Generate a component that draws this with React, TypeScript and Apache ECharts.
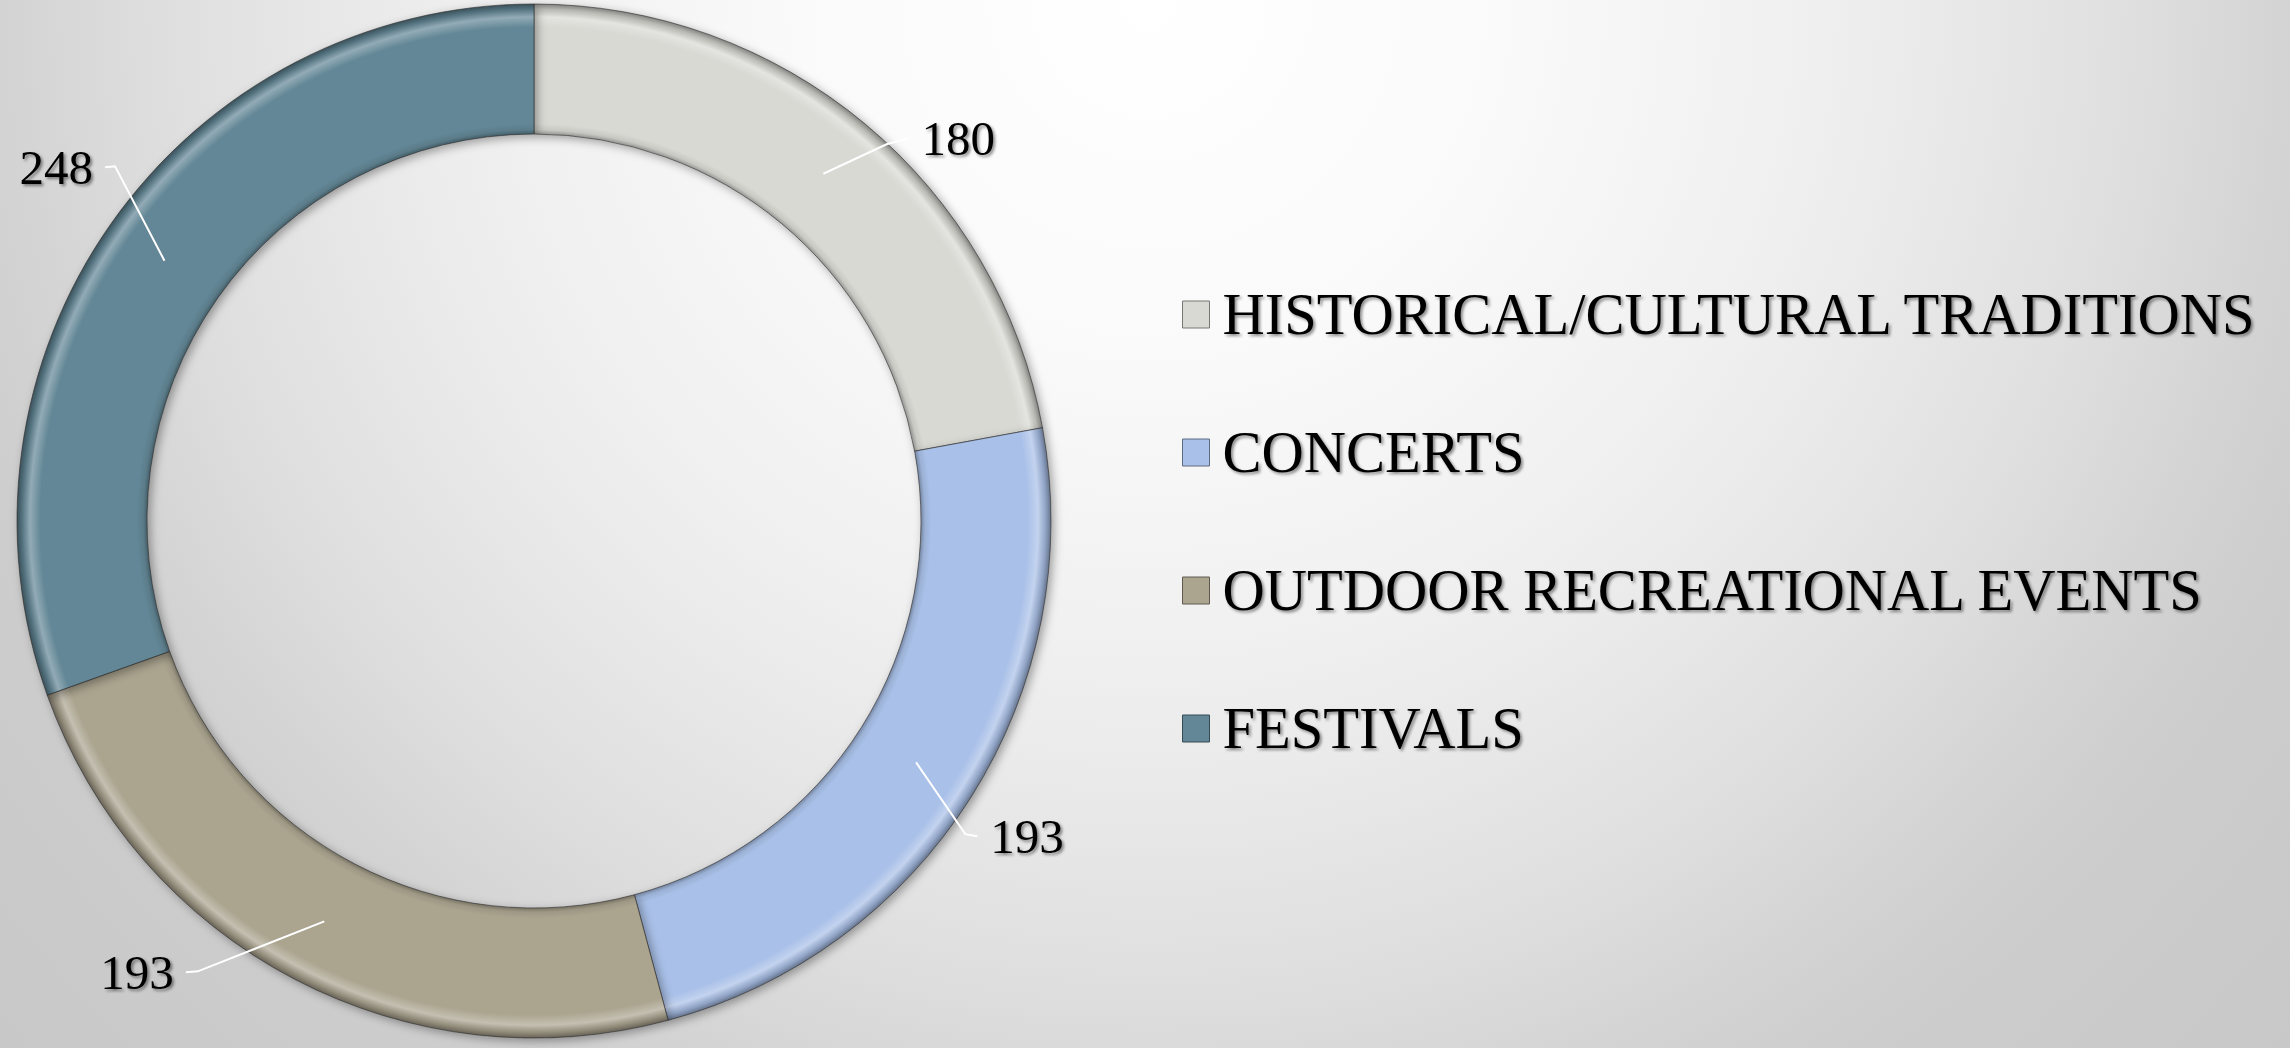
import React, { useEffect, useRef } from "react";
import * as echarts from "echarts";

// ---- data ----
const categories = [
  "HISTORICAL/CULTURAL TRADITIONS",
  "CONCERTS",
  "OUTDOOR RECREATIONAL EVENTS",
  "FESTIVALS",
];
const values = [180, 193, 193, 248];
const colors = ["#d8d9d3", "#a9c0e8", "#aba48f", "#638796"];

// ---- label leader styling (bend radius, clockwise shift of bend, horizontal leg, leg rise) ----
const leaderBendRadius = [516, 533, 562, 549];
const leaderBendShiftDeg = [3.3, 3.7, 9.1, 5.1];
const leaderLegLength = [22, 12, 12, 10];
const leaderLegRise = [-6, 2, 1, 1];

const W = 2290;
const H = 1048;
const CX = 534;
const CY = 521;
const R0 = 387;
const R1 = 517;
const RMID = (R0 + R1) / 2;
const SERIF = "Liberation Serif";

function shade(hex: string, f: number): string {
  const n = parseInt(hex.slice(1), 16);
  let r = (n >> 16) & 255;
  let g = (n >> 8) & 255;
  let b = n & 255;
  const t = f < 0 ? 0 : 255;
  const p = Math.abs(f);
  r = Math.round((t - r) * p + r);
  g = Math.round((t - g) * p + g);
  b = Math.round((t - b) * p + b);
  return `rgb(${r},${g},${b})`;
}

function ringFill(c: string) {
  const k = R0 / R1;
  return {
    type: "radial",
    x: CX,
    y: CY,
    r: R1,
    global: true,
    colorStops: [
      { offset: 0, color: c },
      { offset: k, color: shade(c, -0.3) },
      { offset: k + 0.008, color: shade(c, -0.08) },
      { offset: k + 0.02, color: c },
      { offset: 0.955, color: c },
      { offset: 0.975, color: shade(c, 0.3) },
      { offset: 0.99, color: shade(c, -0.15) },
      { offset: 1, color: shade(c, -0.4) },
    ],
  };
}

const textShadow = {
  textShadowColor: "rgba(0,0,0,0.45)",
  textShadowBlur: 3,
  textShadowOffsetX: 2,
  textShadowOffsetY: 2,
};

export default function App() {
  const ref = useRef<HTMLDivElement>(null);

  useEffect(() => {
    if (!ref.current) return;
    const chart = echarts.init(ref.current, undefined, { renderer: "svg" });
    const seriesData = categories.map((name, i) => ({ name, value: values[i] }));
    const option: any = {
      animation: false,
      backgroundColor: "transparent",
      legend: {
        orient: "vertical",
        left: 1182,
        top: 285,
        padding: 0,
        itemWidth: 27,
        itemHeight: 27,
        itemGap: 79,
        icon: "rect",
        selectedMode: false,
        textStyle: {
          fontFamily: SERIF,
          fontSize: 58.5,
          lineHeight: 58.5,
          color: "#000",
          padding: [0, 0, 0, 8],
          ...textShadow,
        },
        data: categories.map((name, i) => ({
          name,
          itemStyle: {
            color: colors[i],
            borderColor: shade(colors[i], -0.45),
            borderWidth: 1,
          },
        })),
      },
      series: [
        {
          type: "pie",
          z: 2,
          center: [CX, CY],
          radius: [R0, R1],
          startAngle: 90,
          clockwise: true,
          silent: true,
          label: { show: false },
          labelLine: { show: false },
          itemStyle: {
            borderColor: "rgba(40,40,40,0.6)",
            borderWidth: 1,
            shadowBlur: 10,
            shadowColor: "rgba(0,0,0,0.35)",
            shadowOffsetX: 3,
            shadowOffsetY: 3,
          },
          data: seriesData.map((d, i) => ({
            ...d,
            itemStyle: { color: ringFill(colors[i]) },
          })),
        },
        {
          type: "pie",
          z: 5,
          center: [CX, CY],
          radius: [R0, R1],
          startAngle: 90,
          clockwise: true,
          avoidLabelOverlap: false,
          silent: true,
          itemStyle: { color: "rgba(0,0,0,0)", borderWidth: 0 },
          label: {
            show: true,
            position: "outside",
            formatter: "{c}",
            fontFamily: SERIF,
            fontSize: 49,
            color: "#000",
            ...textShadow,
          },
          labelLine: {
            show: true,
            length: 20,
            length2: 10,
            lineStyle: { color: "#ffffff", width: 2 },
          },
          labelLayout: (params: any) => {
            const i = params.dataIndex;
            const pts = params.labelLinePoints;
            if (!pts) return {};
            const a = Math.atan2(pts[0][1] - CY, pts[0][0] - CX);
            const start = [CX + RMID * Math.cos(a), CY + RMID * Math.sin(a)];
            const b = a + (leaderBendShiftDeg[i] * Math.PI) / 180;
            const bend = [
              CX + leaderBendRadius[i] * Math.cos(b),
              CY + leaderBendRadius[i] * Math.sin(b),
            ];
            const right = Math.cos(b) >= 0;
            const end = [
              bend[0] + (right ? 1 : -1) * leaderLegLength[i],
              bend[1] + leaderLegRise[i],
            ];
            return {
              x: end[0] + (right ? 13 : -12),
              y: end[1],
              align: right ? "left" : "right",
              verticalAlign: "middle",
              labelLinePoints: [start, bend, end],
            };
          },
          data: seriesData,
        },
      ],
    };
    chart.setOption(option);
    return () => chart.dispose();
  }, []);

  return (
    <div
      style={{
        position: "absolute",
        left: 0,
        top: 0,
        width: W,
        height: H,
        background:
          "radial-gradient(circle at 1150px 0px, #ffffff 0px, #fafafa 350px, #f0f0f0 650px, #eaeaea 780px, #dfdfdf 980px, #d3d3d3 1150px, #cdcdcd 1260px, #c7c7c7 1600px)",
      }}
    >
      <div ref={ref} style={{ width: W, height: H }} />
    </div>
  );
}
